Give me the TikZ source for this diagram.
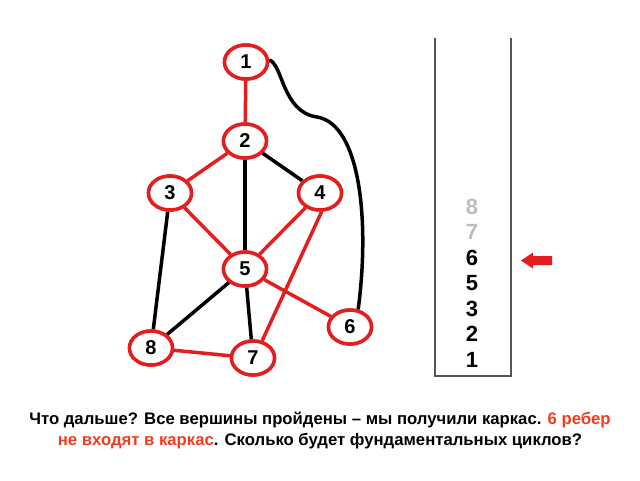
\documentclass[tikz,border=0pt]{standalone}
\usepackage{fontspec}
\setmainfont{Liberation Sans}
\usetikzlibrary{shapes.geometric}
\definecolor{nodered}{HTML}{E41E1E}
\definecolor{txtred}{HTML}{F03C1E}
\definecolor{stackgray}{HTML}{555555}
\definecolor{lightnum}{HTML}{BDBDBD}
\begin{document}
\begin{tikzpicture}[x=1pt,y=-1pt,
  vtx/.style={ellipse,draw=nodered,line width=3.5pt,fill=white,minimum width=43pt,minimum height=34pt,inner sep=0pt,font=\fontsize{20}{20}\selectfont\bfseries},
  tree/.style={draw=nodered,line width=3.5pt},
  other/.style={draw=black,line width=3.5pt},
  num/.style={font=\fontsize{22}{22}\selectfont\bfseries,inner sep=0pt}]
\useasboundingbox (0,0) rectangle (640,480);
% nodes
\node[vtx] (n1) at (246,62) {1};
\node[vtx] (n2) at (245,141) {2};
\node[vtx] (n3) at (170,193) {3};
\node[vtx] (n4) at (320,193) {4};
\node[vtx] (n5) at (245,269) {5};
\node[vtx] (n6) at (350,327) {6};
\node[vtx] (n7) at (253,358) {7};
\node[vtx] (n8) at (151,348) {8};
% edges
\path[other] (n2) -- (n4);
\path[other] (n2) -- (n5);
\path[other] (n3) -- (n8);
\path[other] (n5) -- (n8);
\path[other] (n5) -- (n7);
\path[other] (n1.5) .. controls (283,64) and (282,112) .. (317,117)
  .. controls (360,124) and (370,220) .. (n6.65);
\path[tree] (n1) -- (n2);
\path[tree] (n2) -- (n3);
\path[tree] (n3) -- (n5);
\path[tree] (n4) -- (n5);
\path[tree] (n4.-85) -- (n7.62);
\path[tree] (n5) -- (n6);
\path[tree] (n8) -- (n7);
% redraw nodes on top
\node[vtx] at (n1) {1};
\node[vtx] at (n2) {2};
\node[vtx] at (n3) {3};
\node[vtx] at (n4) {4};
\node[vtx] at (n5) {5};
\node[vtx] at (n6) {6};
\node[vtx] at (n7) {7};
\node[vtx] at (n8) {8};
% stack
\coordinate (sTL) at (435,38);
\coordinate (sBL) at (435,376);
\coordinate (sBR) at (511,376);
\coordinate (sTR) at (511,38);
\draw[stackgray,line width=1.6pt] (sTL) -- (sBL) -- (sBR) -- (sTR);
\node[num,text=lightnum] (k8) at (472,207) {8};
\node[num,text=lightnum] (k7) at (472,232) {7};
\node[num] (k6) at (472,258) {6};
\node[num] (k5) at (472,283) {5};
\node[num] (k3) at (472,309) {3};
\node[num] (k2) at (472,334) {2};
\node[num] (k1) at (472,360) {1};
% arrow
\fill[nodered] (521,260.5) -- (533,252.5) -- (533,256) -- (552,256) -- (552,265) -- (533,265) -- (533,268.5) -- cycle;
% caption
\node[font=\fontsize{16.7}{21}\selectfont\bfseries,align=center] (cap) at (320,431)
 {Что дальше? Все вершины пройдены – мы получили каркас. \textcolor{txtred}{6 ребер}\\
 \textcolor{txtred}{не входят в каркас}. Сколько будет фундаментальных циклов?};
\end{tikzpicture}
\end{document}
